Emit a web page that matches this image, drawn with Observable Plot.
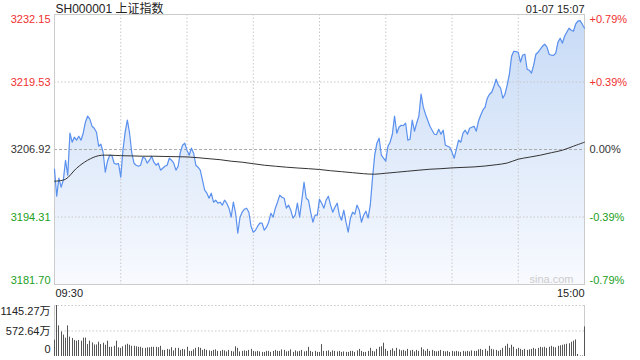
<!DOCTYPE html>
<html><head><meta charset="utf-8">
<script src="https://cdn.jsdelivr.net/npm/d3@7"></script>
<script src="https://cdn.jsdelivr.net/npm/@observablehq/plot@0.6"></script>
<style>
body{margin:0;background:#fff;}
#wrap{position:relative;width:640px;height:360px;font-family:"Liberation Sans",Arial,"Noto Sans CJK SC",sans-serif;}
#wrap svg{position:absolute;left:0;overflow:visible;}
</style></head><body><div id="wrap"></div>
<script>
const title = "SH000001 上证指数";
const stamp = "01-07 15:07";
const timeLabels = ["09:30", "15:00"];
const priceTicks = [3232.15, 3219.53, 3206.92, 3194.31, 3181.70];
const pctTicks = ["+0.79%", "+0.39%", "0.00%", "-0.39%", "-0.79%"];
const volTicks = [1145.27, 572.64, 0];
const volTickLabels = ["1145.27万", "572.64万", "0"];
const gridMinutes = [30, 60, 90, 120, 150, 180, 210];
const avgStep = 5;

// one value per minute: 09:30-11:30 (0-120), 13:01-15:00 (121-240)
const prices = [
3203.24,3198.20,3201.56,3199.88,3201.19,3204.92,3202.12,3209.97,3208.29,3209.22,
3208.66,3209.41,3208.66,3209.97,3212.02,3213.15,3212.59,3211.28,3210.90,3210.16,
3207.54,3207.91,3206.42,3202.68,3204.74,3205.86,3205.80,3204.36,3204.18,3204.30,
3201.75,3206.79,3210.16,3212.40,3209.97,3206.23,3204.36,3203.99,3203.80,3203.99,
3205.48,3205.30,3204.36,3204.92,3205.67,3204.55,3203.99,3204.36,3203.06,3203.43,
3203.80,3203.99,3205.30,3204.92,3204.36,3203.06,3203.80,3206.42,3207.73,3208.10,
3206.79,3205.86,3207.17,3206.23,3203.99,3203.62,3203.06,3201.19,3199.32,3198.76,
3197.82,3198.76,3197.08,3197.45,3196.89,3197.08,3196.52,3197.45,3196.89,3195.96,
3194.27,3197.08,3195.02,3191.28,3194.27,3195.21,3195.77,3195.96,3195.21,3192.59,
3191.47,3191.84,3192.59,3193.15,3193.15,3191.84,3192.41,3193.34,3195.02,3194.27,
3195.96,3197.08,3198.38,3198.01,3197.82,3195.96,3196.52,3195.58,3194.09,3194.65,
3196.89,3194.27,3197.45,3200.81,3197.82,3197.45,3195.21,3193.34,3194.65,3194.65,
3197.64,
3196.89,3195.96,3197.45,3198.20,3196.52,3195.21,3196.14,3196.89,3194.65,3193.71,
3195.58,3193.34,3191.47,3194.09,3195.21,3194.83,3196.52,3195.58,3193.34,3194.65,
3195.39,3194.09,3196.52,3201.56,3205.86,3208.10,3209.03,3205.86,3205.30,3204.74,
3207.54,3208.29,3209.78,3213.15,3209.97,3211.09,3211.46,3211.40,3211.84,3208.66,
3208.85,3212.40,3210.34,3211.84,3213.15,3217.26,3214.83,3213.52,3212.40,3211.28,
3210.53,3209.78,3209.70,3210.72,3209.78,3210.53,3207.73,3207.54,3207.35,3206.42,
3205.30,3206.98,3208.66,3208.29,3209.97,3210.53,3209.78,3210.90,3211.09,3211.28,
3210.34,3212.21,3213.33,3214.27,3214.83,3216.51,3217.26,3217.63,3218.75,3220.06,
3218.94,3218.38,3216.51,3217.26,3218.94,3220.99,3224.36,3225.29,3225.20,3225.10,
3223.24,3224.54,3224.73,3221.93,3221.74,3221.18,3222.68,3224.73,3225.10,3225.66,
3226.23,3226.60,3226.04,3224.73,3224.54,3224.50,3224.92,3226.97,3227.72,3226.79,
3228.09,3228.84,3229.59,3229.21,3229.03,3230.34,3230.90,3231.00,3230.34,3229.59
];

// volume per minute, in 万
const volumes = [
366,1145.27,687,550,481,412,687,435,405,360,
344,360,344,412,412,268,344,305,259,259,
321,268,298,252,344,206,206,229,344,195,
183,218,252,275,252,229,229,218,206,206,
183,183,195,195,206,206,206,199,229,137,
137,160,149,199,126,183,183,137,160,149,
206,115,115,149,183,199,183,137,160,137,
126,115,137,149,115,115,137,126,103,137,
115,103,218,183,103,115,126,115,137,160,
115,103,115,103,92,92,115,115,92,115,
137,115,115,149,137,103,115,149,92,126,
103,115,137,103,115,206,115,92,115,92,
92,
268,115,115,126,92,126,115,103,115,92,
103,92,92,115,115,92,126,160,115,92,
92,115,183,115,103,160,206,218,298,160,
115,137,172,115,183,149,126,137,115,160,
126,137,103,137,115,195,149,115,160,115,
137,115,103,115,137,115,103,115,92,115,
103,115,103,92,115,103,115,103,126,115,
115,149,160,137,160,115,229,160,149,137,
115,137,183,229,275,183,252,206,160,183,
160,137,160,137,149,160,183,160,183,206,
195,206,183,206,229,206,195,229,240,252,
263,275,286,321,344,373,46,11,11,664
];

// average price line, one value every 5 minutes
const avgPrices = [
3201.00,3201.37,3203.43,3204.92,3205.77,3205.86,3205.77,3205.73,3205.67,3205.67,
3205.62,3205.58,3205.54,3205.39,3205.20,3205.02,3204.74,3204.55,3204.27,3203.99,
3203.80,3203.62,3203.47,3203.34,3203.19,3202.96,3202.78,3202.59,3202.40,3202.31,
3202.49,3202.68,3202.87,3203.06,3203.24,3203.34,3203.49,3203.58,3203.67,3203.84,
3204.08,3204.40,3205.11,3205.49,3205.86,3206.33,3206.79,3207.54,3208.29
];

const priceData = prices.map((p, i) => ({i, p}));
const volData = volumes.map((v, i) => ({i, v}));
const avgData = avgPrices.map((a, k) => ({i: k * avgStep, a}));

const RED = "#f03030", GREEN = "#22a022", DARK = "#333";
const FS = 11;

const gradDefs = () => {
  const defs = d3.create("svg:defs");
  const g = defs.append("linearGradient").attr("id", "pgrad")
    .attr("gradientUnits", "userSpaceOnUse")
    .attr("x1", 0).attr("x2", 0).attr("y1", 14).attr("y2", 284);
  g.append("stop").attr("offset", "0%").attr("stop-color", "#c6daf6");
  g.append("stop").attr("offset", "100%").attr("stop-color", "#f8fafe");
  return defs.node();
};

function yLab(k, side, fill, anchor, dy) {
  const d = [{v: priceTicks[k], t: side === "left" ? priceTicks[k].toFixed(2) : pctTicks[k]}];
  return Plot.text(d, {
    x: side === "left" ? 0 : 240, y: "v", text: "t",
    dx: side === "left" ? -4 : 5, dy,
    textAnchor: side === "left" ? "end" : "start",
    lineAnchor: anchor, fill, fontSize: FS
  });
}

const priceChart = Plot.plot({
  width: 640, height: 300,
  marginLeft: 54, marginRight: 56, marginTop: 14, marginBottom: 16,
  x: {domain: [0, 240], axis: null},
  y: {domain: [priceTicks[4], priceTicks[0]], axis: null},
  style: {fontFamily: "'Liberation Sans', Arial, 'Noto Sans CJK SC', sans-serif", background: "transparent"},
  marks: [
    gradDefs,
    Plot.areaY(priceData, {x: "i", y1: priceTicks[4], y2: "p", fill: "url(#pgrad)"}),
    Plot.ruleX(gridMinutes, {stroke: "#c8c8c8", strokeDasharray: "1.5,2"}),
    Plot.ruleY([priceTicks[1], priceTicks[3]], {stroke: "#c8c8c8", strokeDasharray: "1.5,2"}),
    Plot.ruleY([priceTicks[2]], {stroke: "#aaa", strokeDasharray: "3,2"}),
    Plot.frame({stroke: "#ccc"}),
    Plot.line(priceData, {x: "i", y: "p", stroke: "#5a90ee", strokeWidth: 1.2}),
    Plot.line(avgData, {x: "i", y: "a", stroke: "#333", strokeWidth: 1, curve: "catmull-rom"}),
    Plot.text(["sina.com"], {frameAnchor: "bottom-right", dx: -11, dy: -2, lineAnchor: "bottom", fill: "#ccc", fontSize: 11}),
    yLab(0, "left", RED, "top", 1), yLab(1, "left", RED, "middle", 0), yLab(2, "left", DARK, "middle", 0),
    yLab(3, "left", GREEN, "middle", 0), yLab(4, "left", GREEN, "bottom", -1),
    yLab(0, "right", RED, "top", 1), yLab(1, "right", RED, "middle", 0), yLab(2, "right", DARK, "middle", 0),
    yLab(3, "right", GREEN, "middle", 0), yLab(4, "right", GREEN, "bottom", -1),
    Plot.text([title], {frameAnchor: "top-left", dx: 1, dy: -2, lineAnchor: "bottom", fontSize: 12, fill: "#222"}),
    Plot.text([stamp], {frameAnchor: "top-right", dx: 0, dy: -2, lineAnchor: "bottom", fontSize: FS, fill: "#222"}),
    Plot.text([timeLabels[0]], {frameAnchor: "bottom-left", dx: 1, dy: 5, lineAnchor: "top", fontSize: FS, fill: "#222"}),
    Plot.text([timeLabels[1]], {frameAnchor: "bottom-right", dx: 0, dy: 5, lineAnchor: "top", fontSize: FS, fill: "#222"})
  ]
});
priceChart.style.top = "0px";

const volLabData = volTicks.map((v, k) => ({v, t: volTickLabels[k]}));
const volChart = Plot.plot({
  width: 640, height: 60,
  marginLeft: 54, marginRight: 56, marginTop: 5, marginBottom: 4,
  x: {domain: [0, 240], axis: null, round: true},
  y: {domain: [0, volTicks[0]], axis: null},
  style: {fontFamily: "'Liberation Sans', Arial, 'Noto Sans CJK SC', sans-serif", background: "transparent"},
  marks: [
    Plot.ruleY([volTicks[0], volTicks[1]], {stroke: "#c8c8c8", strokeDasharray: "1.5,2"}),
    Plot.ruleX([0, 240], {stroke: "#ccc"}),
    Plot.ruleX(volData, {x: "i", y: "v", stroke: "#555", strokeWidth: 1}),
    Plot.text(volLabData.slice(0, 1), {x: 0, y: "v", text: "t", dx: -4, dy: 2, textAnchor: "end", lineAnchor: "top", fontSize: FS, fill: "#222"}),
    Plot.text(volLabData.slice(1, 2), {x: 0, y: "v", text: "t", dx: -4, textAnchor: "end", lineAnchor: "middle", fontSize: FS, fill: "#222"}),
    Plot.text(volLabData.slice(2, 3), {x: 0, y: "v", text: "t", dx: -4, dy: -4, textAnchor: "end", lineAnchor: "bottom", fontSize: FS, fill: "#222"})
  ]
});
volChart.style.top = "300px";

const wrap = document.getElementById("wrap");
wrap.appendChild(priceChart);
wrap.appendChild(volChart);
</script></body></html>
